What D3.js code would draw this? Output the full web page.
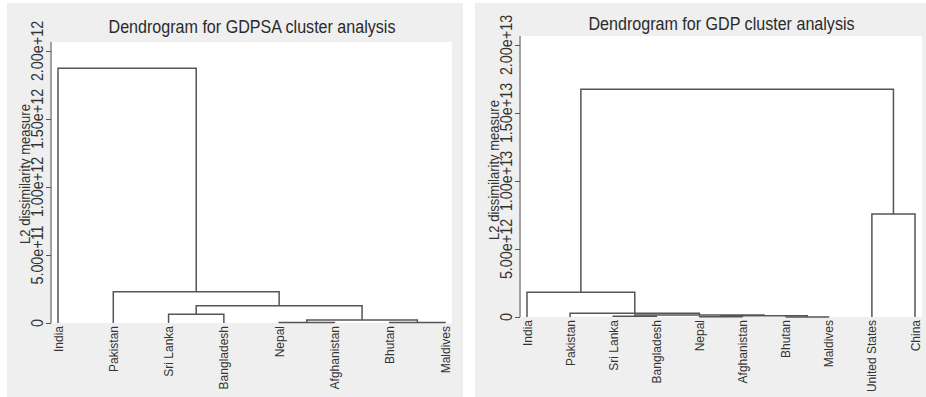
<!DOCTYPE html>
<html>
<head>
<meta charset="utf-8">
<script src="https://cdn.jsdelivr.net/npm/d3@7"></script>
<style>
  body { margin: 0; background: #fff; }
  svg { display: block; }
</style>
</head>
<body>
<div id="chart"></div>
<script>
// data: leaves in plotted order, merges as [childA, childB, height]
// children 0..n-1 are leaves, n.. are earlier merges in order
const leavesSA = ["India", "Pakistan", "Sri Lanka", "Bangladesh", "Nepal", "Afghanistan", "Bhutan", "Maldives"];
const mergesSA = [
  [4, 5, 0.003e12],
  [6, 7, 0.003e12],
  [8, 9, 0.022e12],
  [2, 3, 0.064e12],
  [11, 10, 0.127e12],
  [1, 12, 0.23e12],
  [0, 13, 1.873e12]
];
const ticksSA = [0, 5e11, 1e12, 1.5e12, 2e12];
const tickLabelsSA = ["0", "5.00e+11", "1.00e+12", "1.50e+12", "2.00e+12"];

const leavesGDP = ["India", "Pakistan", "Sri Lanka", "Bangladesh", "Nepal", "Afghanistan", "Bhutan", "Maldives", "United States", "China"];
const mergesGDP = [
  [4, 5, 0.02e12],
  [6, 7, 0.005e12],
  [10, 11, 0.1e12],
  [2, 3, 0.06e12],
  [13, 12, 0.15e12],
  [1, 14, 0.27e12],
  [0, 15, 1.82e12],
  [8, 9, 7.57e12],
  [16, 17, 16.74e12]
];
const ticksGDP = [0, 5e12, 1e13, 1.5e13, 2e13];
const tickLabelsGDP = ["0", "5.00e+12", "1.00e+13", "1.50e+13", "2.00e+13"];

const width = 926, height = 397;
const svg = d3.select("#chart").append("svg")
  .attr("width", width)
  .attr("height", height);

const font = "'Liberation Sans', Arial, sans-serif";
const lineCol = "#555";
const squeeze = 0.87; // Stata's text is narrower than Arial

function drawPanel(p) {
  const g = svg.append("g");

  g.append("rect")
    .attr("x", p.bx0).attr("y", 3)
    .attr("width", p.bx1 - p.bx0).attr("height", height - 3)
    .attr("fill", "#efefef");

  g.append("rect")
    .attr("x", p.x0).attr("y", p.y0)
    .attr("width", p.x1 - p.x0).attr("height", p.y1 - p.y0)
    .attr("fill", "#fff");

  const x = d3.scalePoint().domain(p.leaves).range([p.x0 + 6, p.x1 - 7]);
  const y = d3.scaleLinear().domain([0, p.ticks[p.ticks.length - 1]]).range([p.y1, p.yTop]);

  // node positions: leaves at their point, merges centred over children
  const nodes = p.leaves.map(d => ({ x: x(d), h: 0 }));
  p.merges.forEach(([a, b, h]) => {
    nodes.push({ x: (nodes[a].x + nodes[b].x) / 2, h: h, a: a, b: b });
  });

  g.selectAll("path.link")
    .data(nodes.filter(d => d.a !== undefined))
    .enter().append("path")
    .attr("class", "link")
    .attr("fill", "none")
    .attr("stroke", lineCol)
    .attr("stroke-width", 1.5)
    .attr("d", d => {
      const A = nodes[d.a], B = nodes[d.b];
      return `M${A.x},${y(A.h)}V${y(d.h)}H${B.x}V${y(B.h)}`;
    });

  // y axis
  const yAxis = d3.axisLeft(y).tickValues(p.ticks).tickSize(5).tickFormat((d, i) => p.tickLabels[i]);
  const ax = g.append("g")
    .attr("transform", `translate(${p.x0 - 1},0)`)
    .call(yAxis);
  ax.select(".domain").remove();
  ax.selectAll(".tick line").attr("stroke", lineCol);
  ax.selectAll(".tick text").remove();
  g.append("line")
    .attr("x1", p.x0 - 1).attr("x2", p.x0 - 1)
    .attr("y1", p.y0).attr("y2", p.y1)
    .attr("stroke", lineCol);

  g.selectAll("text.ytick")
    .data(p.ticks)
    .enter().append("text")
    .attr("class", "ytick")
    .attr("transform", d => `translate(${p.x0 - 9},${y(d)}) rotate(-90) scale(${squeeze},1)`)
    .attr("text-anchor", "middle")
    .attr("font-family", font)
    .attr("font-size", 16.5)
    .attr("fill", "#333")
    .text((d, i) => p.tickLabels[i]);

  g.append("text")
    .attr("transform", `translate(${p.x0 - 22},${p.titleY}) rotate(-90) scale(${squeeze},1)`)
    .attr("text-anchor", "middle")
    .attr("font-family", font)
    .attr("font-size", 15)
    .attr("fill", "#333")
    .text("L2 dissimilarity measure");

  // leaf labels
  g.selectAll("text.leaf")
    .data(p.leaves)
    .enter().append("text")
    .attr("class", "leaf")
    .attr("transform", d => `translate(${x(d) + 4.5},${p.y1 + 3}) rotate(-90)`)
    .attr("text-anchor", "end")
    .attr("font-family", font)
    .attr("font-size", 12)
    .attr("fill", "#333")
    .text(d => d);

  g.append("text")
    .attr("transform", `translate(${(p.x0 + p.x1) / 2},${p.headY}) scale(${squeeze},1)`)
    .attr("text-anchor", "middle")
    .attr("font-family", font)
    .attr("font-size", 18.5)
    .attr("fill", "#2a2a2a")
    .text(p.title);
}

drawPanel({
  leaves: leavesSA, merges: mergesSA, ticks: ticksSA, tickLabels: tickLabelsSA,
  title: "Dendrogram for GDPSA cluster analysis",
  bx0: 7, bx1: 463, x0: 52, x1: 452, y0: 42, y1: 323, yTop: 51,
  headY: 33, titleY: 174
});

drawPanel({
  leaves: leavesGDP, merges: mergesGDP, ticks: ticksGDP, tickLabels: tickLabelsGDP,
  title: "Dendrogram for GDP cluster analysis",
  bx0: 475, bx1: 926, x0: 521, x1: 922, y0: 36, y1: 317, yTop: 45,
  headY: 30, titleY: 170
});
</script>
</body>
</html>
